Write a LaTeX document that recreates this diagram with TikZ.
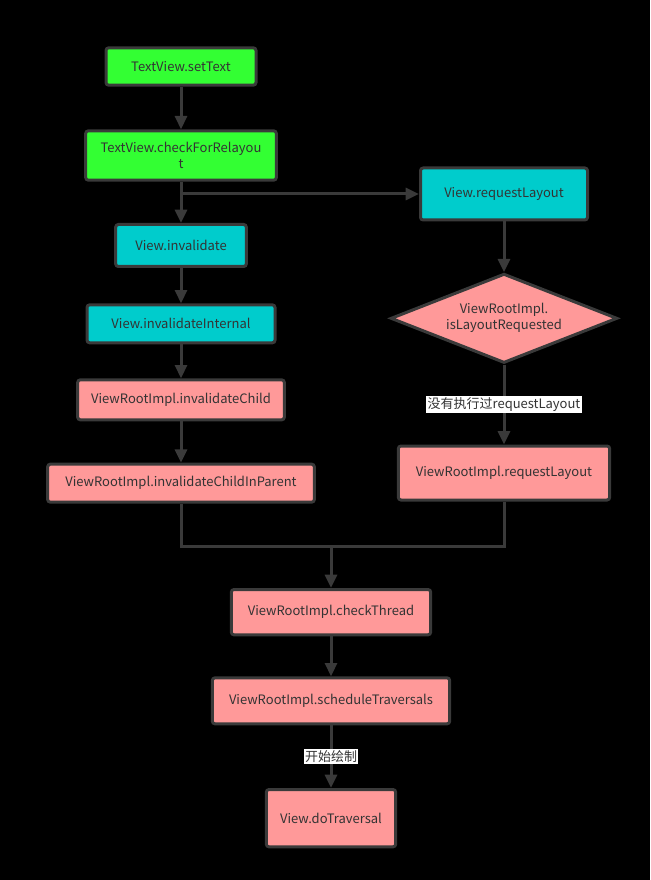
\documentclass[tikz,border=0pt]{standalone}
\usepackage{fontspec}
\setmainfont{Noto Sans CJK SC}
\usetikzlibrary{positioning,shapes.geometric,arrows.meta}
\definecolor{lgreen}{HTML}{33FF33}
\definecolor{lcyan}{HTML}{00CCCC}
\definecolor{lpink}{HTML}{FF9999}
\definecolor{dgray}{HTML}{3A3A3A}
\definecolor{tgray}{HTML}{333333}
\begin{document}
\begin{tikzpicture}[x=1pt, y=1pt,
	box/.style={draw=dgray, line width=2.25pt, rounded corners=2pt, text=tgray, align=center, inner sep=1pt, font=\fontsize{9.75}{12}\selectfont},
	line/.style={draw=dgray, line width=2.25pt, -{Triangle[length=10pt,width=9pt]}},
	lbl/.style={fill=white, text=tgray, inner sep=1pt, font=\fontsize{9.75}{12}\selectfont}]
		\fill[black] (0,0) rectangle (487.5,-660);
		\useasboundingbox (0,0) rectangle (487.5,-660);
		\node (setText) [box, fill=lgreen, minimum width=112.5pt, minimum height=28pt] at (135.75,-49.875) {TextView.setText};
		\node (checkRelayout) [box, fill=lgreen, minimum width=143pt, minimum height=37pt, below=32pt of setText] {TextView.checkForRelayou\\t};
		\node (invalidate) [box, fill=lcyan, minimum width=98pt, minimum height=31.5pt, below=31pt of checkRelayout] {View.invalidate};
		\node (internal) [box, fill=lcyan, minimum width=141pt, minimum height=28.5pt, below=26.5pt of invalidate] {View.invalidateInternal};
		\node (child) [box, fill=lpink, minimum width=155pt, minimum height=30pt, below=25.5pt of internal] {ViewRootImpl.invalidateChild};
		\node (parent) [box, fill=lpink, minimum width=200pt, minimum height=28.5pt, below=31pt of child] {ViewRootImpl.invalidateChildInParent};
		\node (requestLayout) [box, fill=lcyan, minimum width=125.25pt, minimum height=39pt] at (378,-145.5) {View.requestLayout};
		\node (isRequested) [box, diamond, rounded corners=0pt, aspect=2.6, inner sep=0pt, fill=lpink, minimum width=170pt, minimum height=67pt, below=38pt of requestLayout] {ViewRootImpl.\\isLayoutRequested};
		\node (rRequest) [box, fill=lpink, minimum width=158.5pt, minimum height=40.5pt, below=60pt of isRequested] {ViewRootImpl.requestLayout};
		\coordinate (merge) at (248.25,-409.5);
		\node (checkThread) [box, fill=lpink, minimum width=149.5pt, minimum height=34pt, below=31.5pt of merge] {ViewRootImpl.checkThread};
		\node (sched) [box, fill=lpink, minimum width=178pt, minimum height=34.5pt, below=30pt of checkThread] {ViewRootImpl.scheduleTraversals};
		\node (doTrav) [box, fill=lpink, minimum width=97pt, minimum height=43pt, below=47pt of sched] {View.doTraversal};
		\coordinate (fork) at (checkRelayout.south |- requestLayout.west);
		\draw[line] (setText) -- (checkRelayout);
		\draw[line] (checkRelayout) -- (invalidate);
		\draw[line] (fork) -- (requestLayout);
		\draw[line] (invalidate) -- (internal);
		\draw[line] (internal) -- (child);
		\draw[line] (child) -- (parent);
		\draw[line] (requestLayout) -- (isRequested);
		\draw[line] (isRequested) -- node[lbl] {没有执行过requestLayout} (rRequest);
		\draw[line, -] (parent) |- (merge) -| (rRequest);
		\draw[line] (merge) -- (checkThread);
		\draw[line] (checkThread) -- (sched);
		\draw[line] (sched) -- node[lbl] {开始绘制} (doTrav);
\end{tikzpicture}
\end{document}
